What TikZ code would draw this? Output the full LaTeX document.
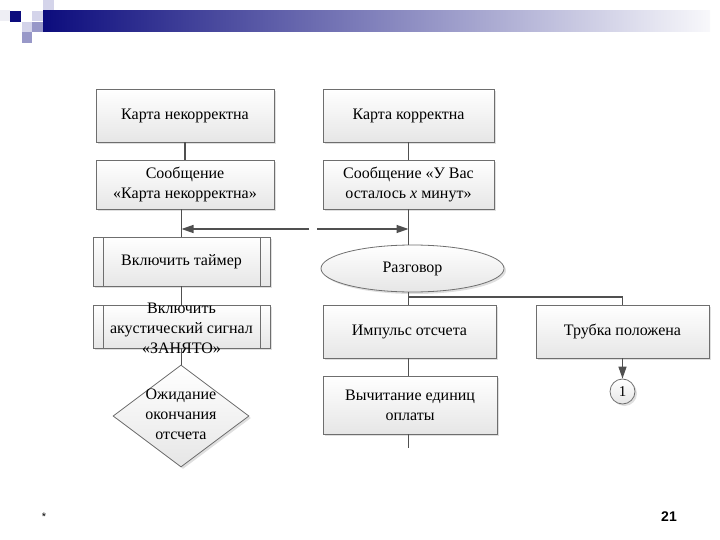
\documentclass[tikz,border=0pt]{standalone}
\usepackage{fontspec}
\setmainfont{Liberation Serif}
\setsansfont{Liberation Sans}
\usepackage{xcolor}
\usepackage{tikz}
\usetikzlibrary{shapes.geometric, positioning, arrows.meta, calc, shadows}
\definecolor{boxframe}{RGB}{110,110,110}
\definecolor{boxshade}{RGB}{230,230,230}
\definecolor{lineclr}{RGB}{80,80,80}
\definecolor{navy}{RGB}{12,12,125}
\definecolor{barend}{RGB}{248,248,251}
\definecolor{sqlight}{RGB}{212,212,234}
\definecolor{sqmid}{RGB}{152,152,200}
\definecolor{sqpale}{RGB}{238,238,244}

\begin{document}
\begin{tikzpicture}[
        x=1pt, y=-1pt,
        every node/.style={font=\fontsize{16}{20}\selectfont},
        box/.style={draw=boxframe, rectangle, align=center, top color=white, bottom color=boxshade, line width=0.8pt,
            drop shadow={shadow xshift=2pt, shadow yshift=-2pt, opacity=0.25}},
        procbox/.style={box, path picture={
            \draw[boxframe, line width=0.8pt] ([xshift=10pt]path picture bounding box.north west) -- ([xshift=10pt]path picture bounding box.south west);
            \draw[boxframe, line width=0.8pt] ([xshift=-10pt]path picture bounding box.north east) -- ([xshift=-10pt]path picture bounding box.south east);}},
        line/.style={draw=lineclr, line width=1.4pt},
        arr/.style={line, -{Triangle[length=12pt, width=8pt]}}
    ]
    \useasboundingbox (0,0) rectangle (720,540);

    \fill[sqpale] (0,10) rectangle (10,21);
    \fill[navy] (10,11) rectangle (21,22);
    \fill[sqlight] (32,11) rectangle (43,21);
    \fill[sqlight] (43,0) rectangle (54,10);
    \fill[sqlight] (22,22) rectangle (32,32);
    \fill[sqmid] (32,22) rectangle (43,32);
    \fill[sqmid] (22,32) rectangle (32,43);
    \shade[left color=navy, right color=barend] (43,11) rectangle (710,32);

    \node[box, minimum width=178pt, minimum height=53pt] (cardbad) at (185,115.5) {Карта некорректна};
    \node[box, minimum width=178pt, minimum height=49pt, inner sep=2pt] (msgbad) at (185,184.5) {Сообщение\\«Карта некорректна»};
    \node[procbox, minimum width=177pt, minimum height=49pt] (timer) at (181.5,261.5) {Включить таймер};
    \node[procbox, minimum width=177pt, minimum height=43pt] (signal) at (181.5,326.5)
        {\raisebox{-7pt}[0pt][0pt]{\begin{tabular}{@{}c@{}}Включить\\акустический сигнал\\«ЗАНЯТО»\end{tabular}}};
    \node[box, diamond, minimum width=136pt, minimum height=102pt, inner sep=0pt] (wait) at (181,416)
        {\raisebox{-4pt}[0pt][0pt]{\begin{tabular}{@{}c@{}}Ожидание\\окончания\\отсчета\end{tabular}}};

    \node[box, minimum width=171pt, minimum height=53pt] (cardok) at (408.5,115.5) {Карта корректна};
    \node[box, minimum width=171pt, minimum height=49pt, inner sep=2pt] (msgok) at (408.5,184.5) {Сообщение «У Вас\\осталось \textit{x} минут»};
    \node[box, ellipse, minimum width=183pt, minimum height=47pt] (talk) at (412.5,268.5) {Разговор};
    \node[box, minimum width=173pt, minimum height=53pt] (pulse) at (409.5,331.5) {Импульс отсчета};
    \node[box, minimum width=173pt, minimum height=53pt] (hangup) at (622.5,331.5) {Трубка положена};
    \node[box, minimum width=174pt, minimum height=58pt] (subtract) at (410,405) {Вычитание единиц\\оплаты};
    \node[box, circle, minimum size=25pt, inner sep=0pt, font=\fontsize{15}{17}\selectfont] (conn1) at (622.5,391.5) {1};

    \coordinate (gapl) at (309,229);
    \coordinate (gapr) at (317,229);
    \coordinate (fork) at (408.5,297);
    \coordinate (subend) at ($(subtract.south -| msgok)+(0,14)$);

    \draw[line] (cardbad) -- (msgbad);
    \draw[line] (timer.north |- msgbad.south) -- (timer.north);
    \draw[line] (timer) -- (signal);
    \draw[line] (signal.south) -- (signal.south |- wait.north);
    \draw[arr] (gapl) -- (gapl -| timer.north);

    \draw[line] (cardok) -- (msgok);
    \draw[line] (msgok.south) -- (msgok.south |- talk.north);
    \draw[arr] (gapr) -- (gapr -| msgok);
    \draw[line] (msgok.south |- talk.south) -- (msgok.south |- pulse.north);
    \draw[line] (fork) -| (hangup.north);
    \draw[line] (subtract.north -| msgok) -- (pulse.south -| msgok);
    \draw[line] (subtract.south -| msgok) -- (subend);
    \draw[arr] (hangup) -- (conn1);

    \node[font=\sffamily\fontsize{11}{12}\selectfont] (star) at (44,517) {*};
    \node[font=\sffamily\bfseries\fontsize{14}{16}\selectfont] (pageno) at (669,517) {21};

    \end{tikzpicture}
\end{document}
